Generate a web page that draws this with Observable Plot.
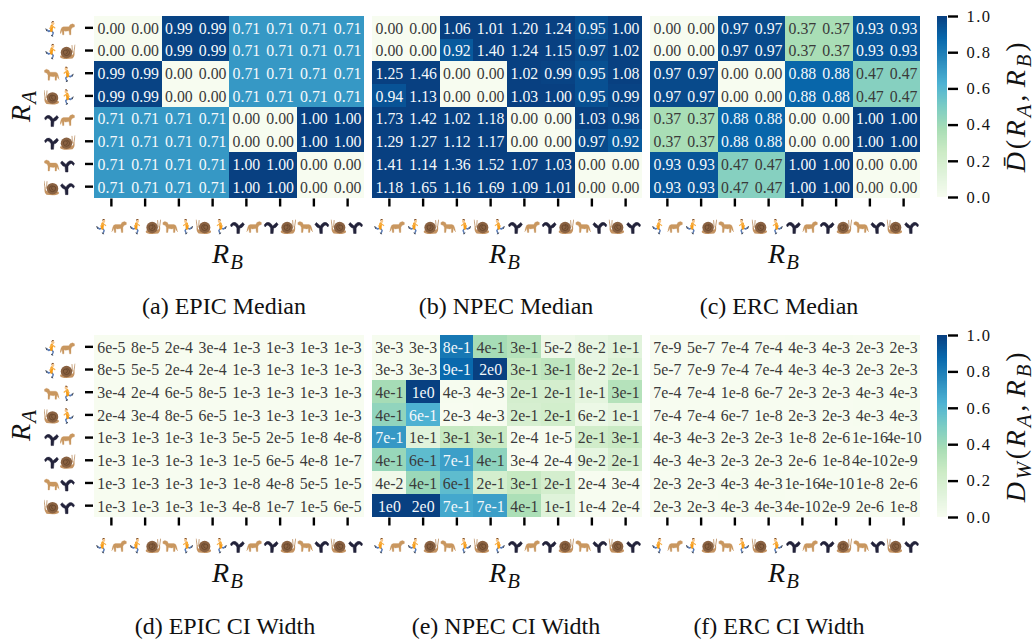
<!DOCTYPE html>
<html><head><meta charset="utf-8">
<script src="https://cdn.jsdelivr.net/npm/d3@7"></script>
<script src="https://cdn.jsdelivr.net/npm/@observablehq/plot@0.6"></script>
<style>
html,body{margin:0;padding:0;background:#fff}
#page{position:relative;width:1032px;height:641px;overflow:hidden;font-family:"Liberation Serif",serif;color:#111}
#page svg{position:absolute;background:none}
.t{position:absolute;white-space:nowrap;transform:translate(-50%,-50%);line-height:1}
.rot{transform:translate(-50%,-50%) rotate(-90deg)}
.math{font-size:28px;font-style:italic;letter-spacing:1px}
.math sub{font-size:.74em;vertical-align:-.3em;line-height:0}
.wide{letter-spacing:2.8px;word-spacing:-5px}
.up{font-style:normal}
.cap{font-size:24px}
</style></head><body><div id="page"></div>
<script>
const rewards = ["runner|cheetah","runner|snail","cheetah|runner","snail|runner","hopper|cheetah","hopper|snail","cheetah|hopper","snail|hopper"];
const epicMedian = [
[0,0,.99,.99,.71,.71,.71,.71],[0,0,.99,.99,.71,.71,.71,.71],
[.99,.99,0,0,.71,.71,.71,.71],[.99,.99,0,0,.71,.71,.71,.71],
[.71,.71,.71,.71,0,0,1,1],[.71,.71,.71,.71,0,0,1,1],
[.71,.71,.71,.71,1,1,0,0],[.71,.71,.71,.71,1,1,0,0]];
const npecMedian = [
[0,0,1.06,1.01,1.20,1.24,.95,1.00],[0,0,.92,1.40,1.24,1.15,.97,1.02],
[1.25,1.46,0,0,1.02,.99,.95,1.08],[.94,1.13,0,0,1.03,1.00,.95,.99],
[1.73,1.42,1.02,1.18,0,0,1.03,.98],[1.29,1.27,1.12,1.17,0,0,.97,.92],
[1.41,1.14,1.36,1.52,1.07,1.03,0,0],[1.18,1.65,1.16,1.69,1.09,1.01,0,0]];
const ercMedian = [
[0,0,.97,.97,.37,.37,.93,.93],[0,0,.97,.97,.37,.37,.93,.93],
[.97,.97,0,0,.88,.88,.47,.47],[.97,.97,0,0,.88,.88,.47,.47],
[.37,.37,.88,.88,0,0,1,1],[.37,.37,.88,.88,0,0,1,1],
[.93,.93,.47,.47,1,1,0,0],[.93,.93,.47,.47,1,1,0,0]];
const epicWidth = [
["6e-5","8e-5","2e-4","3e-4","1e-3","1e-3","1e-3","1e-3"],
["8e-5","5e-5","2e-4","2e-4","1e-3","1e-3","1e-3","1e-3"],
["3e-4","2e-4","6e-5","8e-5","1e-3","1e-3","1e-3","1e-3"],
["2e-4","3e-4","8e-5","6e-5","1e-3","1e-3","1e-3","1e-3"],
["1e-3","1e-3","1e-3","1e-3","5e-5","2e-5","1e-8","4e-8"],
["1e-3","1e-3","1e-3","1e-3","1e-5","6e-5","4e-8","1e-7"],
["1e-3","1e-3","1e-3","1e-3","1e-8","4e-8","5e-5","1e-5"],
["1e-3","1e-3","1e-3","1e-3","4e-8","1e-7","1e-5","6e-5"]];
const npecWidth = [
["3e-3","3e-3","8e-1","4e-1","3e-1","5e-2","8e-2","1e-1"],
["3e-3","3e-3","9e-1","2e0","3e-1","3e-1","8e-2","2e-1"],
["4e-1","1e0","4e-3","4e-3","2e-1","2e-1","1e-1","3e-1"],
["4e-1","6e-1","2e-3","4e-3","2e-1","2e-1","6e-2","1e-1"],
["7e-1","1e-1","3e-1","3e-1","2e-4","1e-5","2e-1","3e-1"],
["4e-1","6e-1","7e-1","4e-1","3e-4","2e-4","9e-2","2e-1"],
["4e-2","4e-1","6e-1","2e-1","3e-1","2e-1","2e-4","3e-4"],
["1e0","2e0","7e-1","7e-1","4e-1","1e-1","1e-4","2e-4"]];
const npecWidthShade = [
[.003,.003,.82,.38,.33,.05,.08,.12],
[.003,.003,.87,1.5,.27,.30,.08,.16],
[.38,1.0,.004,.004,.20,.20,.10,.33],
[.44,.63,.002,.004,.19,.21,.06,.10],
[.71,.12,.27,.26,.0002,.00001,.22,.26],
[.42,.58,.69,.45,.0003,.0002,.09,.19],
[.04,.41,.58,.20,.27,.20,.0002,.0003],
[1.0,1.5,.66,.69,.36,.13,.0001,.0002]];
const ercWidth = [
["7e-9","5e-7","7e-4","7e-4","4e-3","4e-3","2e-3","2e-3"],
["5e-7","7e-9","7e-4","7e-4","4e-3","4e-3","2e-3","2e-3"],
["7e-4","7e-4","1e-8","6e-7","2e-3","2e-3","4e-3","4e-3"],
["7e-4","7e-4","6e-7","1e-8","2e-3","2e-3","4e-3","4e-3"],
["4e-3","4e-3","2e-3","2e-3","1e-8","2e-6","1e-16","4e-10"],
["4e-3","4e-3","2e-3","2e-3","2e-6","1e-8","4e-10","2e-9"],
["2e-3","2e-3","4e-3","4e-3","1e-16","4e-10","1e-8","2e-6"],
["2e-3","2e-3","4e-3","4e-3","4e-10","2e-9","2e-6","1e-8"]];
const colorStops = [0,.125,.25,.375,.5,.625,.75,.875,1];
const colorRange = ["#f7fcf0","#e0f3db","#ccebc5","#a8ddb5","#7bccc4","#4eb3d3","#2b8cbe","#0868ac","#084081"];
const colorTicks = [0,.2,.4,.6,.8,1];

// Pictograms (no emoji font is installed), drawn in the orientation of the first slot.
const iconBody = {
  runner:`<g transform="translate(4,0) scale(.78,1)"><g fill="none" stroke-linecap="round" stroke-linejoin="round"><path d="M15 19 L8 21 L3 18" stroke="#5b7cb5" stroke-width="3.4"/><path d="M15 19 L20 24 L17 30" stroke="#5b7cb5" stroke-width="3.4"/><path d="M1 16 L3 20" stroke="#444" stroke-width="2"/><path d="M15 29 L19 31" stroke="#444" stroke-width="2"/><path d="M16 11 L15 19" stroke="#f79c16" stroke-width="7"/><path d="M17 11 L11 15 M17 10 L24 14" stroke="#f7b04a" stroke-width="2.8"/></g><circle cx="19" cy="5" r="3.8" fill="#f6c68c"/><path d="M15 5 A4 4 0 0 1 22 2 L17 3 Z" fill="#6b3d1c"/></g>`,
  cheetah:`<path d="M30 8 L26 6 L21 8 L19 12 L8 12 Q4 12 3 17 L1 24 L3 24 L5 19 L6 28 L9 28 L9 20 L12 21 L19 20 L20 28 L23 28 L23 18 L25 14 L30 12 Z" fill="#c9975f" stroke="#c9975f" stroke-width=".6" stroke-linejoin="round"/><path d="M2 24 L0 27" stroke="#c9975f" stroke-width="1.4"/>`,
  snail:`<path d="M1 27 Q4 31 14 31 L26 30 Q31 26 30 17 Q29 14 28 16 Q28 22 25 23 L2 24 Z" fill="#c49362"/><path d="M29 16 L31 3 M26 17 L25 4" stroke="#b98a5c" stroke-width="1.6" stroke-linecap="round"/><circle cx="14" cy="18" r="11.5" fill="#8a6242"/><path d="M14 12 a6 6 0 1 1 -6 6 a4 4 0 1 1 4 3" fill="none" stroke="#634328" stroke-width="1.6"/>`,
  hopper:`<path d="M2 13 Q6 6 12 8 Q17 10 19 15 L27 8 L30 12 Q25 20 21 19 L20 30 L15 30 L15 19 Q12 13 8 13 L4 17 Z" fill="#23233b" stroke="#23233b" stroke-linejoin="round"/>`
};
function iconSrc(name, slot){
  // slot 0 keeps runner/hopper as drawn and flips the animals; slot 1 is the reverse
  const mirror = slot === 1 ? name==="runner"||name==="hopper" : name==="cheetah"||name==="snail";
  const t = mirror ? ` transform="translate(32,0) scale(-1,1)"` : "";
  const svg = `<svg xmlns="http://www.w3.org/2000/svg" viewBox="0 0 32 32"><g${t}>${iconBody[name]}</g></svg>`;
  return "data:image/svg+xml," + encodeURIComponent(svg);
}
const labelColorScale = d3.scaleLinear().domain(colorStops).range(colorRange).clamp(true);
function relLum(v){
  const c = d3.rgb(labelColorScale(v));
  const f = u => {u/=255; return u<=.03928?u/12.92:Math.pow((u+.055)/1.055,2.4)};
  return .2126*f(c.r)+.7152*f(c.g)+.0722*f(c.b);
}
const colorOpt = {type:"linear",domain:colorStops,range:colorRange,clamp:true};
const page = document.getElementById("page");
const CW = 270, CH = 181.5, ICON = 16;
const band = {type:"band",domain:rewards,padding:0,round:false,label:null};

function panel(opts){
  const {left, top, shades, labels, yAxis} = opts;
  const rows = [];
  rewards.forEach((ra,i)=>rewards.forEach((rb,j)=>rows.push({ra,rb,v:shades[i][j],t:labels[i][j]})));
  const ml = yAxis ? 60 : 0, mb = 14, mr = 8;
  const marks = [
    Plot.cell(rows,{x:"rb",y:"ra",fill:"v",shapeRendering:"crispEdges"}),
    Plot.text(rows,{x:"rb",y:"ra",text:"t",dy:.8,fontSize:15.8,fontFamily:"Liberation Serif",
      fill:d=>relLum(d.v)>.408?"#3a3a3a":"#f4f8fb"}),
    Plot.axisX({anchor:"bottom",tickSize:8,tickFormat:null,strokeWidth:2.4,stroke:"#000",dy:1,label:null}),
  ];
  if (yAxis) marks.push(
    Plot.axisY({anchor:"left",tickSize:8,tickFormat:null,strokeWidth:2.4,stroke:"#000",dx:-1,label:null}),
    Plot.image(rewards,{y:d=>d,frameAnchor:"left",dx:-43,dy:1,width:ICON,height:ICON,src:d=>iconSrc(d.split("|")[0],0)}),
    Plot.image(rewards,{y:d=>d,frameAnchor:"left",dx:-27,dy:1,width:ICON,height:ICON,src:d=>iconSrc(d.split("|")[1],1)}));
  const chart = Plot.plot({
    width:ml+CW+mr, height:CH+mb, marginLeft:ml, marginRight:mr, marginTop:0, marginBottom:mb,
    x:band, y:band, color:colorOpt, marks
  });
  chart.style.left=(left-ml)+"px"; chart.style.top=top+"px";
  page.appendChild(chart);
  // the x tick pictograms sit in a strip of their own under the heat map
  const strip = Plot.plot({
    width:CW,height:24,margin:0,x:{...band,axis:null},
    marks:[
      Plot.image(rewards,{x:d=>d,frameAnchor:"middle",dx:-9,width:ICON,height:ICON,src:d=>iconSrc(d.split("|")[0],0)}),
      Plot.image(rewards,{x:d=>d,frameAnchor:"middle",dx:8,width:ICON,height:ICON,src:d=>iconSrc(d.split("|")[1],1)})]
  });
  strip.style.left=left+"px"; strip.style.top=(top+CH+16)+"px"; strip.style.overflow="visible";
  page.appendChild(strip);
}
function colorbar(top, h){
  const ramp = d3.range(0,256).map(i=>i/256);
  const chart = Plot.plot({
    width:90,height:h+12,marginLeft:0,marginRight:80,marginTop:6,marginBottom:6,
    style:{letterSpacing:"1.4px"},
    x:{axis:null},
    y:{domain:[0,1],label:null},
    color:colorOpt,
    marks:[
      Plot.rect(ramp,{y1:d=>d,y2:d=>d+1/256+.001,fill:d=>d+1/512,shapeRendering:"crispEdges"}),
      Plot.axisY(colorTicks,{anchor:"right",tickSize:10,strokeWidth:2.4,stroke:"#000",tickPadding:9,
        tickFormat:d=>d.toFixed(1),fontSize:16.5,fontFamily:"Liberation Serif",label:null})
    ]
  });
  chart.style.left="937px"; chart.style.top=(top-6)+"px";
  page.appendChild(chart);
}
function addText(html, cls, x, y){
  const d=document.createElement("div"); d.className="t "+cls; d.innerHTML=html;
  d.style.left=x+"px"; d.style.top=y+"px"; page.appendChild(d);
}
const f2 = m => m.map(r=>r.map(v=>v.toFixed(2)));
const num = m => m.map(r=>r.map(Number));
const lefts = [94,372,650], top1 = 16, top2 = 335;
panel({left:lefts[0],top:top1,shades:epicMedian,labels:f2(epicMedian),yAxis:true});
panel({left:lefts[1],top:top1,shades:npecMedian,labels:f2(npecMedian)});
panel({left:lefts[2],top:top1,shades:ercMedian,labels:f2(ercMedian)});
panel({left:lefts[0],top:top2,shades:num(epicWidth),labels:epicWidth,yAxis:true});
panel({left:lefts[1],top:top2,shades:npecWidthShade,labels:npecWidth});
panel({left:lefts[2],top:top2,shades:num(ercWidth),labels:ercWidth});
colorbar(16,181); colorbar(335,182);

const RA=`<i>R</i><sub>A</sub>`, RB=`<i>R</i><sub>B</sub>`;
addText(RA,"math rot",21,106); addText(RA,"math rot",21,425);
[228,505,784].forEach(x=>{addText(RB,"math",x,254); addText(RB,"math",x,573);});
[["(a) EPIC Median",224,306],["(b) NPEC Median",506,306],["(c) ERC Median",779,306],
 ["(d) EPIC CI Width",225,626],["(e) NPEC CI Width",506,626],["(f) ERC CI Width",779,626]]
 .forEach(([t,x,y])=>addText(t,"cap",x,y));
addText(`D&#772;<span class="up">(</span>${RA}, ${RB}<span class="up">)</span>`,"math rot wide",1016,106);
addText(`D<sub>W</sub><span class="up">(</span>${RA}, ${RB}<span class="up">)</span>`,"math rot wide",1016,426);
</script></body></html>
